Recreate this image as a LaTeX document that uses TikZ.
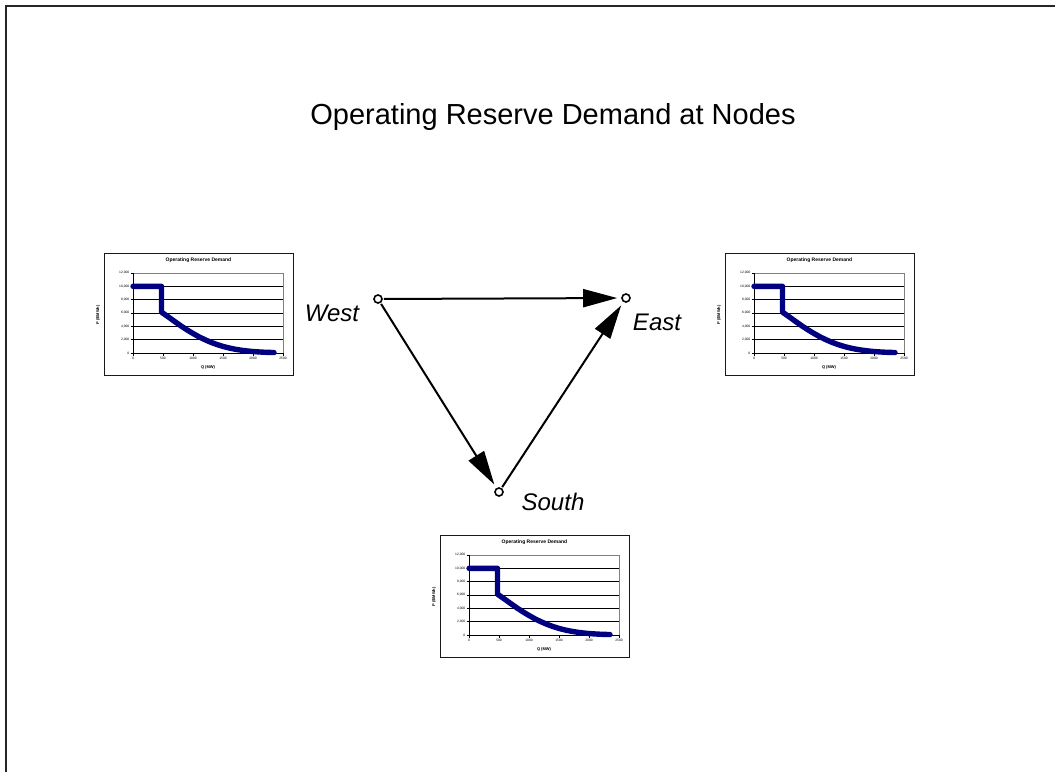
\documentclass[tikz,border=0pt]{standalone}
\usepackage{fontspec}
\setmainfont{Liberation Sans}
\usetikzlibrary{arrows.meta}
\definecolor{curvecol}{RGB}{0,0,128}
\definecolor{plotgray}{RGB}{128,128,128}
\tikzset{
  frame/.style={line width=1.5pt, draw=black!85},
  chartframe/.style={draw=black!90, line width=1pt, inner sep=0pt},
  plotborder/.style={draw=plotgray, line width=0.8pt},
  gridline/.style={draw=black, line width=0.9pt},
  axisline/.style={draw=black, line width=0.9pt},
  ticktext/.style={font=\fontsize{3.3}{4}\selectfont, inner sep=0.5pt},
  charttitle/.style={font=\fontsize{5}{6}\selectfont\bfseries, inner sep=0pt},
  axistitle/.style={font=\fontsize{4}{5}\selectfont\bfseries, inner sep=0pt},
  demand/.style={draw=curvecol, line width=5.4pt, line join=round, line cap=round},
  dot/.style={circle, draw=black, fill=white, line width=1.6pt, inner sep=0pt, minimum size=8pt},
  placelabel/.style={font=\fontsize{24}{28}\selectfont\itshape, inner sep=0pt},
  flow/.style={draw=black, line width=2pt, -{Triangle[length=34pt,width=18pt]}, shorten >=4pt, shorten <=1pt},
}
\newcommand{\orchart}[3]{%
\begin{scope}[shift={(#2,#3)}]
  \node[chartframe, minimum width=189pt, minimum height=122pt] (#1box) at (65.5,-39) {};
  \foreach \k in {1,...,5} {\draw[gridline] (0,-13.3333*\k) -- (150,-13.3333*\k);}
  \draw[plotborder] (0,-80) -- (150,-80) -- (150,0);
  \draw[axisline] (0,-80) -- (0,0) -- (150,0);
  \foreach \k/\t in {0/0,1/{2,000},2/{4,000},3/{6,000},4/{8,000},5/{10,000},6/{12,000}} {
    \draw[axisline] (-2.5,-13.3333*\k) -- (0,-13.3333*\k);
    \node[ticktext, anchor=east] (#1y\k) at (-3,-13.3333*\k) {\t};
  }
  \foreach \k/\t in {0/0,1/500,2/1000,3/1500,4/2000,5/2500} {
    \draw[axisline] (30*\k,0) -- (30*\k,2.5);
    \node[ticktext, anchor=north] (#1x\k) at (30*\k,3) {\t};
  }
  \node[charttitle] (#1title) at (65.5,-93) {Operating Reserve Demand};
  \node[axistitle] (#1xlab) at (75,14) {Q (MW)};
  \node[axistitle, rotate=90] (#1ylab) at (-35,-38) {P (\$/MWh)};
  \begin{scope}[x=6pt, y=0.666667pt]
    \draw[demand] (0,100) -- (4.75,100) -- (4.75,61.3) -- (6,53.4) -- (7,46.9) -- (8,40.6)
      -- (9,34.7) -- (10,29.3) -- (11,24.3) -- (12,19.9) -- (13,16.0) -- (14,12.7)
      -- (15,9.9) -- (16,7.6) -- (17,5.7) -- (18,4.3) -- (19,3.1) -- (20,2.2)
      -- (21,1.6) -- (22,1.1) -- (23.5,0.7);
  \end{scope}
\end{scope}}
\begin{document}
\begin{tikzpicture}[x=1pt, y=-1pt]
  \useasboundingbox (0,0) rectangle (1055,772);
  \draw[frame] (6,772) -- (6,6) -- (1055,6);
  \node[inner sep=0pt, font=\fontsize{29}{34}\selectfont] (title) at (553,117) {Operating Reserve Demand at Nodes};
  \orchart{west}{133}{353}
  \orchart{east}{754}{353}
  \orchart{south}{469}{635}
  \node[dot] (W) at (378,299) {};
  \node[dot] (E) at (626,298) {};
  \node[dot] (S) at (499,492) {};
  \node[placelabel] (Wl) at (332,313) {West};
  \node[placelabel] (El) at (657,322) {East};
  \node[placelabel] (Sl) at (553,502) {South};
  \draw[flow] (W) -- (E);
  \draw[flow] (W) -- (S);
  \draw[flow] (S) -- (E);
\end{tikzpicture}
\end{document}
